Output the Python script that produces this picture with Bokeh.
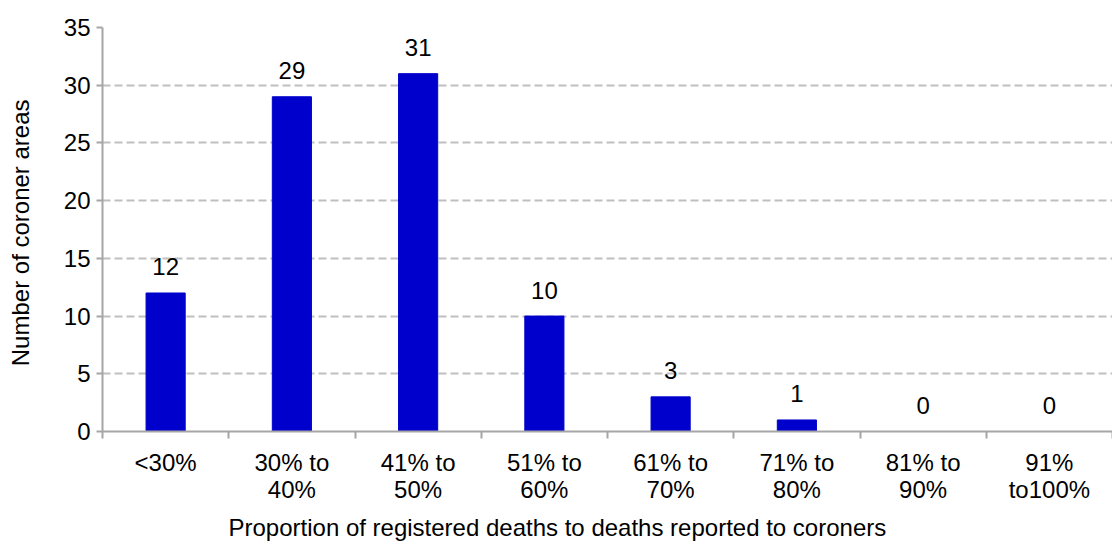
from bokeh.plotting import figure
from bokeh.models import FixedTicker, Range1d, ColumnDataSource, Title
from bokeh.core.properties import value
from bokeh.embed import file_html
from bokeh.resources import INLINE

categories = ["<30%", "30% to\n40%", "41% to\n50%", "51% to\n60%", "61% to\n70%",
              "71% to\n80%", "81% to\n90%", "91%\nto100%"]
counts = [12, 29, 31, 10, 3, 1, 0, 0]
y_ticks = [0, 5, 10, 15, 20, 25, 30, 35]
x_title = "Proportion of registered deaths to deaths reported to coroners"
y_title = "Number of  coroner areas"

FONT = "Liberation Sans"
FS = "24px"
BAR = "#0000CC"
AXIS = "#A6A6A6"
TXT = "#000000"

centers = [i + 0.5 for i in range(len(categories))]
src = ColumnDataSource(dict(x=centers, top=counts, lab=[str(c) for c in counts]))

p = figure(width=1112, height=547, output_backend="svg", toolbar_location=None,
           x_range=Range1d(0, len(categories)), y_range=Range1d(0, 35),
           min_border_left=102, min_border_right=0, min_border_top=27, min_border_bottom=115)
p.outline_line_color = None
p.background_fill_color = "white"
p.border_fill_color = "white"

p.vbar(x="x", top="top", width=0.31, source=src, fill_color=BAR, line_color=BAR)
p.text(x="x", y="top", text="lab", source=src, text_align="center", text_baseline="middle",
       y_offset=-26, text_font=value(FONT), text_font_size=FS, text_color=TXT)

# x axis
xa = p.xaxis[0]
xa.ticker = FixedTicker(ticks=centers, minor_ticks=list(range(len(categories) + 1)))
xa.major_label_overrides = {c: lab for c, lab in zip(centers, categories)}
xa.major_tick_out = 0
xa.major_tick_in = 0
xa.minor_tick_out = 7
xa.minor_tick_in = 0
xa.minor_tick_line_color = AXIS
xa.minor_tick_line_width = 2
xa.axis_line_color = AXIS
xa.axis_line_width = 2
xa.major_label_standoff = 10
xa.major_label_text_font = FONT
xa.major_label_text_font_size = FS
xa.major_label_text_line_height = 1.0
xa.major_label_text_color = TXT

# y axis
ya = p.yaxis[0]
ya.ticker = FixedTicker(ticks=y_ticks)
ya.minor_tick_line_color = None
ya.major_tick_out = 6
ya.major_tick_in = 0
ya.major_tick_line_color = AXIS
ya.major_tick_line_width = 2
ya.axis_line_color = AXIS
ya.axis_line_width = 2
ya.major_label_standoff = 6
ya.major_label_text_font = FONT
ya.major_label_text_font_size = FS
ya.major_label_text_color = TXT
ya.axis_label = y_title
ya.axis_label_text_font = FONT
ya.axis_label_text_font_size = FS
ya.axis_label_text_font_style = "normal"
ya.axis_label_text_color = TXT
ya.axis_label_standoff = 27

p.add_layout(Title(text=x_title, align="left", offset=126, standoff=13,
                   text_font=FONT, text_font_size=FS, text_font_style="normal",
                   text_color=TXT), "below")

p.xgrid.grid_line_color = None
p.ygrid.grid_line_color = "#BFBFBF"
p.ygrid.grid_line_width = 2
p.ygrid.grid_line_dash = "8 4"

open("out.html", "w").write(file_html(p, INLINE))
